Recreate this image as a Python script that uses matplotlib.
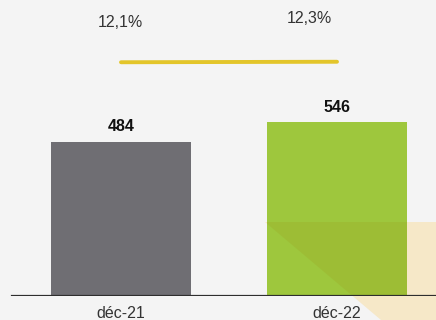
import matplotlib.pyplot as plt
from matplotlib.patches import Polygon

# ---------- données ----------
periods = ["déc-21", "déc-22"]
values = [484, 546]
rates = [12.1, 12.3]
rate_labels = ["12,1%", "12,3%"]
# -----------------------------

W, H = 436, 320
fig = plt.figure(figsize=(W / 100, H / 100), dpi=100)
fig.patch.set_facecolor("#F4F4F4")
plt.rcParams["font.family"] = ["Liberation Sans", "DejaVu Sans"]

# bandeau beige en bas à droite (sous les axes)
px = [(265, 222), (436, 222), (436, 320), (381, 320)]
shape = [(x / W, 1 - y / H) for x, y in px]
fig.patches.append(Polygon(shape, closed=True, transform=fig.transFigure,
                           facecolor="#F6E8C8", edgecolor="none", zorder=-5))

# axe des barres : base à 24 px du bas
x = [0, 1]
ax = fig.add_axes([0, 24 / H, 1, 191 / H])
ax.set_facecolor("none")
ax.set_xlim(-121 / 216, (W - 121) / 216)
ax.set_ylim(0, 600)
bars = ax.bar(x, values, width=0.648, color=["#6F6E73", "#9EC73D"], zorder=2)

# ombre du bandeau sur la barre verte
overlay = Polygon(shape, closed=True, transform=fig.transFigure,
                  facecolor="#9A7A00", alpha=0.12, edgecolor="none", zorder=3)
ax.add_patch(overlay)
overlay.set_clip_path(bars[1])

for b, v in zip(bars, values):
    ax.annotate(str(v), (b.get_x() + b.get_width() / 2, v), xytext=(0, 15),
                textcoords="offset pixels", ha="center", va="center",
                fontsize=11.5, fontweight="bold", color="#111111")

ax.axhline(0, xmin=12 / W, xmax=1, color="#2E2E2E", lw=1.6, zorder=4)
for s in ax.spines.values():
    s.set_visible(False)
ax.set_yticks([])
ax.set_xticks(x)
ax.set_xticklabels(periods, fontsize=11.5, color="#333333")
ax.tick_params(axis="x", length=0, pad=7)

# taux au-dessus
ax2 = fig.add_axes([0, 0, 1, 1], sharex=ax)
ax2.set_facecolor("none")
ax2.axis("off")
ax2.set_ylim(12.2 - 258 / 2.5, 12.2 + 62 / 2.5)
ax2.plot(x, rates, color="#E3C52A", lw=2.8, solid_capstyle="round")
offsets = [(-1, 40), (-28, 43)]
for xi, r, lab, off in zip(x, rates, rate_labels, offsets):
    ax2.annotate(lab, (xi, r), xytext=off, textcoords="offset pixels",
                 ha="center", va="center", fontsize=11.5, color="#333333")

fig.savefig("out.png", dpi=100, facecolor=fig.get_facecolor())
